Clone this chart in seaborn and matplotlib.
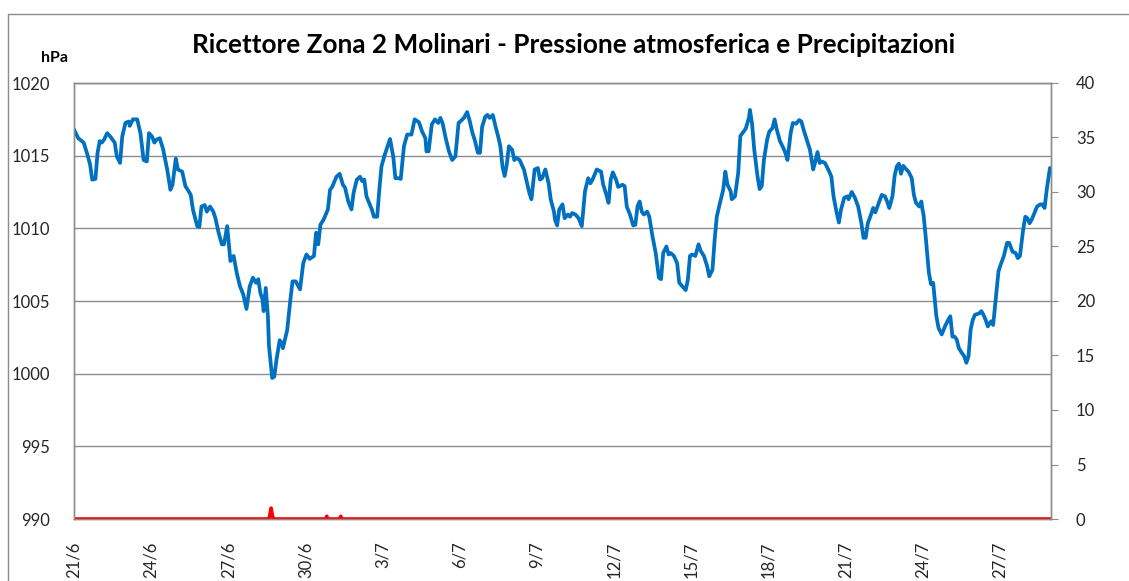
import numpy as np
import pandas as pd
import matplotlib
matplotlib.use('Agg')
import matplotlib.pyplot as plt
from matplotlib.lines import Line2D
import seaborn as sns

# ore dal 21/6 00:00 e pressione (hPa)
ore = [0, 4, 9, 12, 15, 17, 20, 22, 24, 26, 28, 31, 34, 38, 40, 43, 45, 48, 51, 52, 55, 59, 62, 65, 68, 70, 73, 75, 77, 80,
       83, 87, 90, 92, 95, 97, 101, 104, 107, 109, 111, 115, 117, 119, 122, 124, 127, 130, 132, 135, 138, 140, 143, 146, 149,
       152, 155, 158, 161, 164, 167, 170, 172, 174, 176, 177, 179, 181, 182, 185, 187, 189, 192, 194, 195, 199, 202, 204, 207,
       211, 214, 217, 220, 224, 226, 228, 230, 233, 237,
       239, 241, 245, 248, 251, 253, 256, 259, 261, 264, 267, 269, 271, 273, 278, 280, 283, 285, 287, 290, 295, 298, 300, 303,
       305, 308, 311, 315, 318, 322, 325, 328, 329, 331, 334, 337, 340, 342, 344, 347, 350, 353, 356, 359, 362, 364, 367, 369,
       372, 374, 377, 379, 381, 384, 386, 388, 391, 393, 396, 398, 400, 402, 404, 406, 409, 411, 413, 416, 420, 423, 425, 427,
       430, 433, 435, 437, 440, 443, 445, 448, 449, 451, 453, 456, 458, 461, 463, 465, 468, 471, 474,
       477, 480, 482, 484, 488, 492, 494, 497, 499, 501, 503, 506, 508, 512, 514, 516, 519, 522, 524, 526, 528, 530, 532, 535,
       537, 540, 543, 546, 548, 550, 553, 555, 557, 560, 563, 565, 568, 571, 573, 575, 577, 580, 583, 585, 588, 591, 593, 596,
       598, 600, 603, 606, 608, 610, 613, 614, 617, 620, 622, 625, 627, 630, 631, 633, 635, 638, 640, 642, 644, 647, 649, 652,
       654, 656, 659, 662, 664, 666, 669, 671, 674, 677, 679, 681, 684, 687, 688, 690, 692, 694, 696, 698, 701, 705, 707, 709,
       712, 714,
       716, 719, 722, 723, 726, 729, 732, 735, 737, 739, 741, 744, 746, 748, 750, 754, 757, 759, 761, 764, 766, 768, 770, 772,
       774, 777, 779, 782, 784, 786, 789, 791, 792, 793, 795, 798, 800, 802, 805, 807, 810, 813, 816, 818, 820, 822, 824, 826,
       829, 831, 833, 835, 837, 839, 841, 845, 847, 849, 851, 853, 856, 858, 860, 863, 865, 868, 871, 873, 876, 879, 881, 883,
       886, 888, 890, 892, 894, 897, 899, 902, 904, 906, 908, 911]

pressione = [1016.8, 1016.2, 1015.9, 1015.2, 1014.4, 1013.35, 1013.4, 1015.2, 1016.0, 1015.9, 1016.1, 1016.55, 1016.3, 1015.9,
             1014.95, 1014.5, 1016.3, 1017.25, 1017.35, 1017.05, 1017.5, 1017.5, 1016.55, 1014.7, 1014.6, 1016.55, 1016.3,
             1015.9, 1016.1, 1016.2, 1015.5, 1014.05, 1012.65, 1013.0, 1014.8, 1014.05, 1013.9, 1012.9, 1012.55, 1012.3,
             1011.3, 1010.15, 1010.1, 1011.5, 1011.6, 1011.15, 1011.5, 1011.15, 1010.7, 1009.7, 1008.9, 1008.9, 1010.15,
             1007.75, 1008.1, 1006.9, 1006.0, 1005.45, 1004.45, 1006.0, 1006.6, 1006.25, 1006.5, 1005.55, 1005.1, 1004.3,
             1005.9, 1003.95, 1001.9, 999.7, 999.8, 1000.95, 1002.3, 1002.1, 1001.75, 1003.0, 1005.1, 1006.35, 1006.35,
             1005.8, 1007.6, 1008.2, 1007.9, 1008.1, 1009.7, 1008.9, 1010.25, 1010.6, 1011.3,
             1012.65, 1012.85, 1013.55, 1013.75, 1013.0, 1012.8, 1011.85, 1011.3, 1012.45, 1013.35, 1013.55, 1013.25,
             1013.35, 1012.2, 1011.3, 1010.8, 1010.8, 1012.65, 1014.25, 1015.05, 1016.15, 1014.95, 1013.45, 1013.45,
             1013.4, 1015.65, 1016.45, 1016.45, 1017.5, 1017.3, 1016.65, 1016.2, 1015.3, 1015.3, 1017.15, 1017.5, 1017.25,
             1017.6, 1017.25, 1016.2, 1015.3, 1014.7, 1014.95, 1017.25, 1017.45, 1017.6, 1018.0, 1017.5, 1016.55, 1016.1,
             1015.2, 1015.2, 1017.0, 1017.7, 1017.8, 1017.6, 1017.8, 1017.15, 1016.3, 1015.65, 1014.25, 1013.6, 1014.4,
             1015.65, 1015.4, 1014.7, 1014.85, 1014.7, 1014.05, 1013.1, 1012.45, 1012.0, 1014.05, 1014.15, 1013.35,
             1013.45, 1014.05, 1013.1, 1012.0, 1011.15, 1010.6, 1010.2, 1011.3, 1011.65, 1010.7, 1010.95, 1010.8,
             1011.05, 1010.95, 1010.7, 1010.15,
             1012.55, 1013.45, 1013.1, 1013.35, 1014.05, 1013.9, 1013.0, 1012.3, 1011.75, 1013.35, 1013.85, 1013.35,
             1012.85, 1013.0, 1012.9, 1011.5, 1010.95, 1010.2, 1010.25, 1011.5, 1011.85, 1011.15, 1010.95, 1011.15,
             1010.8, 1009.45, 1008.3, 1006.6, 1006.5, 1008.3, 1008.75, 1008.2, 1008.3, 1008.1, 1007.6, 1006.25, 1006.0,
             1005.75, 1006.45, 1008.1, 1008.2, 1008.1, 1008.9, 1008.45, 1008.1, 1007.4, 1006.7, 1007.15, 1009.2, 1010.8,
             1011.75, 1012.65, 1013.9, 1013.0, 1012.55, 1012.0, 1012.2, 1013.8, 1016.35, 1016.65, 1016.85, 1017.6,
             1018.15, 1017.15, 1015.4, 1013.6, 1012.7, 1012.9, 1014.7, 1016.1, 1016.65, 1016.9, 1017.5, 1016.8, 1016.0,
             1015.55, 1015.2, 1014.7, 1016.55, 1017.25, 1017.2, 1017.45, 1017.35, 1016.8, 1016.1, 1015.4, 1014.95,
             1014.05, 1014.6, 1015.25, 1014.5, 1014.6, 1014.5, 1013.9, 1013.55, 1012.2, 1011.05, 1010.4,
             1011.3, 1012.1, 1012.2, 1012.0, 1012.5, 1012.1, 1011.5, 1010.35, 1009.35, 1009.35, 1010.35, 1010.95,
             1011.4, 1011.1, 1011.5, 1012.3, 1012.2, 1011.85, 1011.4, 1012.2, 1013.6, 1014.25, 1014.45, 1013.75,
             1014.3, 1014.05, 1013.9, 1013.45, 1012.3, 1011.75, 1011.5, 1011.85, 1011.3, 1010.95, 1009.45, 1006.95,
             1006.15, 1006.25, 1003.95, 1003.15, 1002.7, 1003.25, 1003.7, 1003.95, 1002.55, 1002.55, 1002.35, 1001.75,
             1001.4, 1001.2, 1000.75, 1001.2, 1003.05, 1003.7, 1004.05, 1004.15, 1004.3, 1004.05, 1003.7, 1003.25,
             1003.6, 1003.35, 1004.85, 1007.05, 1007.5, 1008.1, 1009.0, 1009.0, 1008.4, 1008.3, 1007.95, 1008.1,
             1009.9, 1010.8, 1010.7, 1010.35, 1010.6, 1011.15, 1011.5, 1011.65, 1011.65, 1011.4, 1012.65, 1014.15]

# precipitazioni (mm): ore con pioggia, il resto e' zero
pioggia_ore = [183, 184, 185, 236, 249]
pioggia_mm = [0.45, 1.0, 0.4, 0.25, 0.25]

etichette = ['21/6', '24/6', '27/6', '30/6', '3/7', '6/7', '9/7', '12/7', '15/7', '18/7', '21/7', '24/7', '27/7']
titolo = 'Ricettore Zona 2 Molinari - Pressione atmosferica e Precipitazioni'

df = pd.DataFrame({'giorno': np.array(ore) / 24, 'hPa': pressione})
rain = pd.Series(0.0, index=range(0, 913))
rain[pioggia_ore] = pioggia_mm
df_rain = pd.DataFrame({'giorno': rain.index / 24, 'mm': rain.values})

sns.set_style('white')
plt.rcParams['font.family'] = ['Lato', 'DejaVu Sans']

W, H = 1129, 581
fig = plt.figure(figsize=(W / 100, H / 100), dpi=100)
ax = fig.add_axes([74 / W, 1 - 519 / H, (1051 - 74) / W, (519 - 83) / H])

grigio = '#8c8c8c'
testo = '#262626'

sns.lineplot(data=df, x='giorno', y='hPa', ax=ax, color='#0070C0', linewidth=2.7, zorder=3)
ax.set_xlim(0, 38)
ax.set_ylim(990, 1020)
ax.set_yticks(range(990, 1021, 5))
ax.grid(axis='y', color=grigio, linewidth=1)
ax.set_xlabel('')
ax.set_ylabel('')
ax.tick_params(axis='y', length=0, pad=17, labelsize=12, labelcolor=testo)
ax.set_xticks(range(0, 37, 3))
ax.set_xticklabels(etichette, rotation=90, fontsize=12, color=testo)
ax.set_xticks(range(0, 39), minor=True)
ax.tick_params(axis='x', which='both', direction='out', length=6, color=grigio, width=1, pad=10)
for s in ax.spines.values():
    s.set_color(grigio)
    s.set_linewidth(1)

ax2 = ax.twinx()
sns.lineplot(data=df_rain, x='giorno', y='mm', ax=ax2, color='#FF0000', linewidth=2.6)
ax2.set_ylim(0, 40)
ax2.set_yticks(range(0, 41, 5))
ax2.set_ylabel('')
ax2.tick_params(axis='y', direction='out', length=5, color=grigio, pad=13, labelsize=12, labelcolor=testo)
ax2.grid(False)
for s in ax2.spines.values():
    s.set_color(grigio)
    s.set_linewidth(1)

fig.text(574 / W, 1 - 45 / H, titolo, ha='center', va='center', fontsize=18.8, fontweight='bold', color='black')
fig.text(55 / W, 1 - 58 / H, 'hPa', ha='center', va='center', fontsize=11.5, fontweight='bold', color='black')

# cornice del grafico
fig.add_artist(Line2D([8 / W, 8 / W], [0, 1 - 14 / H], color=grigio, linewidth=1))
fig.add_artist(Line2D([8 / W, 1], [1 - 14 / H, 1 - 14 / H], color=grigio, linewidth=1))

fig.savefig('out.png', dpi=100)
